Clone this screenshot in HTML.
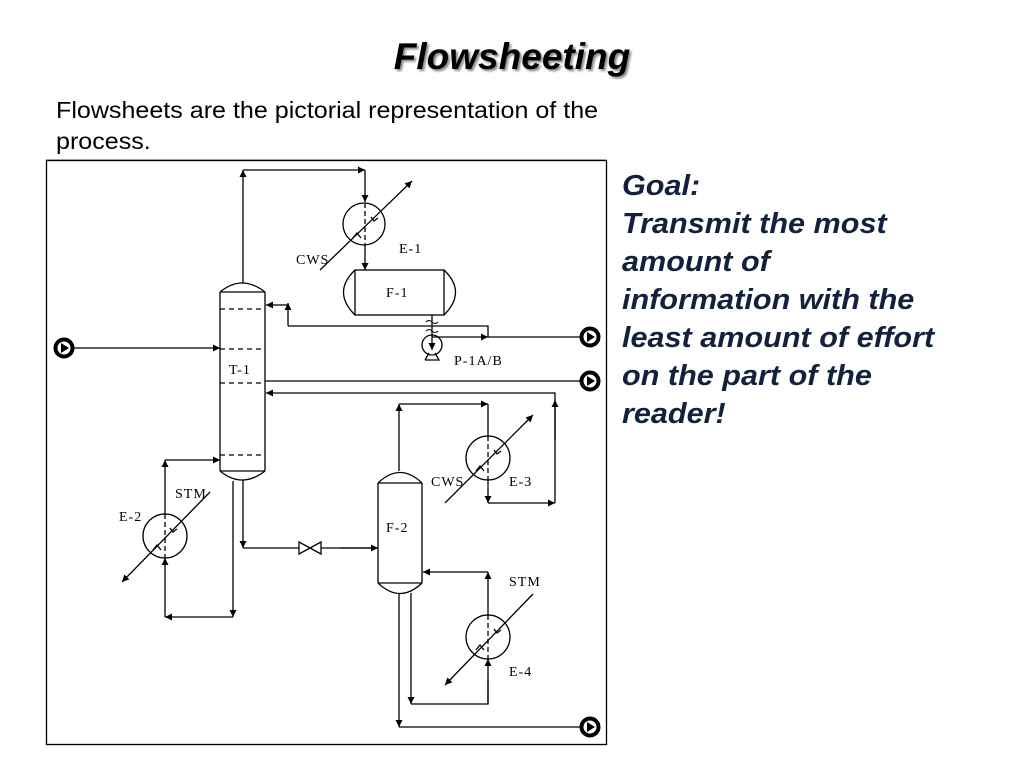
<!DOCTYPE html>
<html><head><meta charset="utf-8"><style>
html,body{margin:0;padding:0;background:#fff;}
body{width:1024px;height:773px;position:relative;overflow:hidden;font-family:"Liberation Sans",sans-serif;}
.title{position:absolute;left:0;width:1024px;top:36px;text-align:center;font-size:37px;font-weight:bold;font-style:italic;color:#000;text-shadow:2px 2px 2px #888;}
.sub{position:absolute;left:56px;top:95px;font-size:23px;line-height:31px;color:#000;transform:scaleX(1.09);transform-origin:0 0;white-space:nowrap;}
.goal{position:absolute;left:622px;top:167px;font-size:29px;line-height:38px;font-weight:bold;font-style:italic;color:#14213d;white-space:nowrap;transform:scaleX(1.055);transform-origin:0 0;}
svg{position:absolute;left:0;top:0;}
</style></head><body>
<div class="title">Flowsheeting</div>
<div class="sub">Flowsheets are the pictorial representation of the<br>process.</div>
<div class="goal">Goal:<br>Transmit the most<br>amount of<br>information with the<br>least amount of effort<br>on the part of the<br>reader!</div>
<svg width="1024" height="773" viewBox="0 0 1024 773">
<defs>
<marker id="a" viewBox="0 0 10 10" refX="10" refY="5" markerWidth="11" markerHeight="7" markerUnits="userSpaceOnUse" orient="auto"><path d="M0,0L10,5L0,10z" fill="#000"/></marker>
</defs>
<line x1="46" y1="160" x2="606" y2="160" stroke="#666" stroke-width="1"/>
<rect x="46.5" y="160.5" width="560" height="584" fill="none" stroke="#000" stroke-width="1.3"/>
<g fill="none" stroke="#000" stroke-width="1.3" font-family="Liberation Serif,serif" font-size="14" letter-spacing="1">
<path d="M220,292 L220,471 M265,292 L265,471 M220,292 Q242,274 265,292 M220,471 Q242,489 265,471"/>
<line x1="220" y1="292" x2="265" y2="292"/><line x1="220" y1="471" x2="265" y2="471"/>
<g stroke-dasharray="5,4"><line x1="220" y1="309" x2="265" y2="309"/><line x1="220" y1="349" x2="265" y2="349"/><line x1="220" y1="383" x2="265" y2="383"/><line x1="220" y1="455" x2="265" y2="455"/></g>
<text x="229" y="374" fill="#000" stroke="none">T-1</text>
<path d="M243,283 L243,170" marker-end="url(#a)"/>
<path d="M243,170 L365,170" marker-end="url(#a)"/>
<path d="M365,170 L365,202" marker-end="url(#a)"/>
<circle cx="364" cy="224" r="21"/>
<line x1="365" y1="203" x2="365" y2="245" stroke-dasharray="5,3"/>
<path d="M320,270 L412,181" marker-end="url(#a)"/>
<path d="M371,217 l3,4 l4,-3 M353,238 l4,-5 l4,5"/>
<text x="296" y="264" fill="#000" stroke="none">CWS</text>
<text x="399" y="253" fill="#000" stroke="none">E-1</text>
<path d="M365,245 L365,270" marker-end="url(#a)"/>
<rect x="355" y="270" width="89" height="45"/>
<path d="M355,270 Q332,292 355,315 M444,270 Q467,292 444,315"/>
<text x="386" y="297" fill="#000" stroke="none">F-1</text>
<path d="M432,315 L432,350" marker-end="url(#a)"/>
<path d="M426,322 q3,-3 6,0 q3,3 6,0 M426,331 q3,-3 6,0 q3,3 6,0" stroke-width="1"/>
<circle cx="432" cy="345" r="10"/>
<path d="M425,360 L439,360 L435,353 M425,360 L429,353"/>
<text x="454" y="365" fill="#000" stroke="none">P-1A/B</text>
<path d="M488,337 L488,326 L288,326"/>
<path d="M288,326 L288,303" marker-end="url(#a)"/>
<path d="M282,305 L266,305" marker-end="url(#a)"/>
<path d="M288,305 L282,305"/>
<path d="M432,337 L488,337" marker-end="url(#a)"/>
<path d="M488,337 L581,337"/>
<path d="M73,348 L220,348" marker-end="url(#a)"/>
<path d="M265,381 L581,381"/>
<path d="M555,503 L555,393 L266,393" marker-end="url(#a)"/>
<path d="M555,440 L555,400" marker-end="url(#a)"/>
<path d="M378,483 L378,583 M422,483 L422,583 M378,483 Q400,462 422,483 M378,583 Q400,604 422,583"/>
<line x1="378" y1="483" x2="422" y2="483"/><line x1="378" y1="583" x2="422" y2="583"/>
<text x="386" y="532" fill="#000" stroke="none">F-2</text>
<path d="M399,471 L399,404" marker-end="url(#a)"/>
<path d="M399,404 L488,404" marker-end="url(#a)"/>
<path d="M488,404 L488,436"/>
<circle cx="488" cy="458" r="22"/>
<line x1="488" y1="436" x2="488" y2="480" stroke-dasharray="5,3"/>
<path d="M445,503 L533,415" marker-end="url(#a)"/>
<path d="M494,450 l3,4 l4,-3 M476,471 l4,-5 l4,5"/>
<path d="M488,480 L488,503" marker-end="url(#a)"/>
<path d="M488,503 L555,503" marker-end="url(#a)"/>
<text x="431" y="486" fill="#000" stroke="none">CWS</text>
<text x="509" y="486" fill="#000" stroke="none">E-3</text>
<path d="M243,480 L243,548" marker-end="url(#a)"/>
<path d="M243,548 L299,548 M321,548 L378,548"/>
<path d="M340,548 L378,548" marker-end="url(#a)"/>
<path d="M299,542 L299,554 L321,542 L321,554 Z"/>
<path d="M233,481 L233,617" marker-end="url(#a)"/>
<path d="M233,617 L165,617" marker-end="url(#a)"/>
<path d="M165,617 L165,558" marker-end="url(#a)"/>
<circle cx="165" cy="536" r="22"/>
<line x1="165" y1="514" x2="165" y2="558" stroke-dasharray="5,3"/>
<path d="M170,528 l3,4 l4,-3 M153,550 l4,-5 l4,5"/>
<path d="M210,492 L122,582" marker-end="url(#a)"/>
<path d="M165,514 L165,460" marker-end="url(#a)"/>
<path d="M165,460 L220,460" marker-end="url(#a)"/>
<text x="175" y="498" fill="#000" stroke="none">STM</text>
<text x="119" y="521" fill="#000" stroke="none">E-2</text>
<path d="M399,593 L399,727" marker-end="url(#a)"/>
<path d="M399,727 L581,727"/>
<path d="M411,593 L411,704" marker-end="url(#a)"/>
<path d="M411,704 L488,704 L488,680"/>
<path d="M488,704 L488,659" marker-end="url(#a)"/>
<circle cx="488" cy="637" r="22"/>
<line x1="488" y1="615" x2="488" y2="659" stroke-dasharray="5,3"/>
<path d="M494,629 l3,4 l4,-3 M476,650 l4,-5 l4,5"/>
<path d="M533,594 L445,685" marker-end="url(#a)"/>
<path d="M488,615 L488,572" marker-end="url(#a)"/>
<path d="M488,572 L423,572" marker-end="url(#a)"/>
<text x="509" y="586" fill="#000" stroke="none">STM</text>
<text x="509" y="676" fill="#000" stroke="none">E-4</text>
</g>
<g>
<circle cx="64" cy="348" r="8.5" fill="#fff" stroke="#000" stroke-width="4"/><path d="M61,343 L69,348 L61,353z" fill="#000"/>
<circle cx="590" cy="337" r="8.5" fill="#fff" stroke="#000" stroke-width="4"/><path d="M587,332 L595,337 L587,342z" fill="#000"/>
<circle cx="590" cy="381" r="8.5" fill="#fff" stroke="#000" stroke-width="4"/><path d="M587,376 L595,381 L587,386z" fill="#000"/>
<circle cx="590" cy="727" r="8.5" fill="#fff" stroke="#000" stroke-width="4"/><path d="M587,722 L595,727 L587,732z" fill="#000"/>
</g>
</svg>
</body></html>
